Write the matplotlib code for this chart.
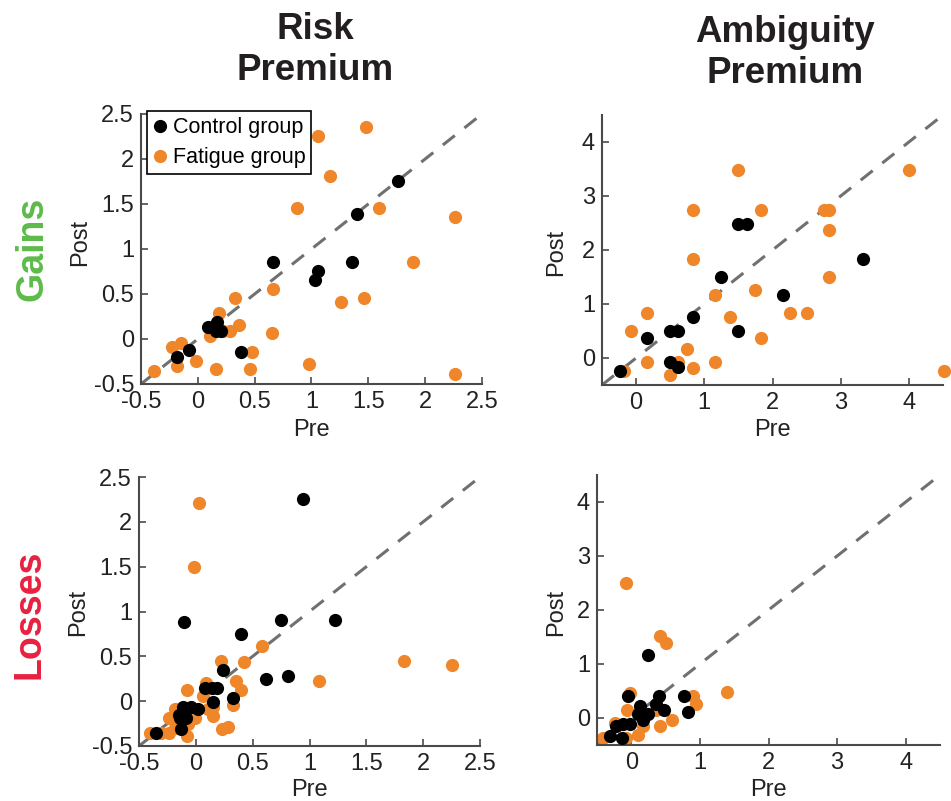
import matplotlib
matplotlib.use("Agg")
import matplotlib.pyplot as plt
from matplotlib.lines import Line2D

plt.rcParams['font.family'] = ['Liberation Sans', 'DejaVu Sans']

# ---------------- data ----------------
# Risk premium, gains
rg_ctrl_pre  = [1.76, 1.40, 0.66, 1.36, 1.06, 1.03, 0.09, 0.17, 0.16, 0.20, 0.13, -0.08, -0.18, 0.38]
rg_ctrl_post = [1.75, 1.39, 0.85, 0.86, 0.76, 0.65, 0.13, 0.19, 0.09, 0.09, 0.13, -0.12, -0.20, -0.14]
rg_fat_pre  = [1.48, 1.06, 1.16, 0.87, 1.59, 2.26, 1.89, 0.66, 0.33, 1.26, 1.46, 0.19, 0.36, 0.28, 0.11,
               0.65, 0.22, -0.15, -0.23, -0.02, -0.18, -0.39, 0.16, 0.46, 0.48, 0.98, 2.26]
rg_fat_post = [2.35, 2.26, 1.81, 1.45, 1.45, 1.35, 0.85, 0.56, 0.45, 0.41, 0.45, 0.29, 0.15, 0.09, 0.03,
               0.07, 0.09, -0.04, -0.09, -0.25, -0.30, -0.36, -0.33, -0.33, -0.14, -0.28, -0.39]

# Ambiguity premium, gains
ag_ctrl_pre  = [-0.24, 0.16, 0.49, 0.62, 0.49, 0.62, 0.83, 1.25, 1.49, 1.62, 1.49, 2.16, 3.33]
ag_ctrl_post = [-0.25, 0.37, 0.50, 0.50, -0.08, -0.17, 0.75, 1.50, 2.49, 2.49, 0.50, 1.17, 1.83]
ag_fat_pre  = [-0.18, -0.08, 0.16, 0.16, 0.49, 0.62, 0.75, 0.83, 0.83, 0.83, 1.16, 1.16, 1.38, 1.49,
               1.75, 1.83, 1.83, 2.25, 2.50, 2.75, 2.83, 2.83, 2.83, 4.00, 4.51]
ag_fat_post = [-0.25, 0.50, 0.84, -0.08, -0.31, -0.08, 0.17, -0.18, 2.74, 1.83, 1.17, -0.08, 0.75, 3.49,
               1.25, 2.74, 0.37, 0.83, 0.83, 2.74, 2.74, 2.37, 1.50, 3.49, -0.25]

# Risk premium, losses
rl_ctrl_pre  = [0.94, -0.10, 0.75, 1.22, 0.40, 0.24, 0.62, 0.81, 0.08, 0.14, 0.19, 0.15, 0.33, -0.11,
                -0.04, 0.02, -0.15, -0.09, -0.14, -0.13, -0.35]
rl_ctrl_post = [2.25, 0.88, 0.91, 0.91, 0.75, 0.35, 0.25, 0.28, 0.15, 0.15, 0.15, -0.01, 0.03, -0.06,
                -0.06, -0.09, -0.15, -0.19, -0.19, -0.31, -0.35]
rl_fat_pre  = [0.03, -0.02, 0.58, 0.22, 0.42, 1.83, 2.25, 1.08, 0.35, 0.40, 0.09, -0.08, 0.06, 0.15,
               0.33, 0.15, -0.01, -0.18, -0.24, -0.07, 0.23, 0.28, -0.08, -0.40, -0.31, -0.24, -0.18, 0.11]
rl_fat_post = [2.21, 1.50, 0.62, 0.45, 0.44, 0.45, 0.40, 0.23, 0.23, 0.13, 0.20, 0.13, 0.06, -0.07,
               -0.04, -0.17, -0.19, -0.09, -0.19, -0.26, -0.31, -0.29, -0.39, -0.35, -0.35, -0.35, -0.30, -0.09]

# Ambiguity premium, losses
al_ctrl_pre  = [0.25, -0.05, 0.41, 0.77, 0.13, 0.36, 0.47, 0.83, 0.10, 0.24, 0.17, -0.02, -0.12, -0.22,
                -0.31, -0.14]
al_ctrl_post = [1.17, 0.40, 0.40, 0.40, 0.23, 0.26, 0.15, 0.11, 0.07, 0.07, -0.03, -0.12, -0.12, -0.14,
                -0.34, -0.37]
al_fat_pre  = [-0.07, 0.42, 0.50, 1.39, -0.02, 0.90, 0.94, -0.06, 0.36, 0.60, 0.42, 0.10, -0.24, -0.41,
               -0.07, 0.17]
al_fat_post = [2.50, 1.51, 1.39, 0.48, 0.46, 0.40, 0.26, 0.15, 0.15, -0.03, -0.15, -0.31, -0.09, -0.37,
               -0.37, -0.15]

risk_ticks = [-0.5, 0, 0.5, 1, 1.5, 2, 2.5]
risk_ticklabels = ['-0.5', '0', '0.5', '1', '1.5', '2', '2.5']
amb_ticks = [0, 1, 2, 3, 4]
amb_ticklabels = ['0', '1', '2', '3', '4']
col_titles = ['Risk\nPremium', 'Ambiguity\nPremium']
row_titles = ['Gains', 'Losses']
legend_labels = ['Control group', 'Fatigue group']

# ---------------- style ----------------
ORANGE = '#F0862A'
BLACK = '#000000'
GREEN = '#5DBB4A'
RED = '#E8213F'
SPINE = '#4a4a4a'
W, H = 951, 801

fig = plt.figure(figsize=(W / 100, H / 100), dpi=100)


def rect(l, r, t, b):
    return [l / W, (H - b) / H, (r - l) / W, (b - t) / H]


panels = [
    (rect(141, 482, 114, 384), rg_ctrl_pre, rg_ctrl_post, rg_fat_pre, rg_fat_post, (-0.5, 2.5), risk_ticks, risk_ticklabels),
    (rect(602, 943, 115, 385), ag_ctrl_pre, ag_ctrl_post, ag_fat_pre, ag_fat_post, (-0.5, 4.5), amb_ticks, amb_ticklabels),
    (rect(139, 480, 477, 746), rl_ctrl_pre, rl_ctrl_post, rl_fat_pre, rl_fat_post, (-0.5, 2.5), risk_ticks, risk_ticklabels),
    (rect(597, 940, 475, 745), al_ctrl_pre, al_ctrl_post, al_fat_pre, al_fat_post, (-0.5, 4.5), amb_ticks, amb_ticklabels),
]

axes = []
for (r, cx, cy, fx, fy, lim, ticks, tlabels) in panels:
    ax = fig.add_axes(r)
    ax.plot(lim, lim, color='#707070', lw=2.2, dashes=(5, 4), zorder=1)
    ax.plot(fx, fy, 'o', color=ORANGE, ms=9.5, mec='none', clip_on=False, zorder=2)
    ax.plot(cx, cy, 'o', color=BLACK, ms=9.5, mec='none', clip_on=False, zorder=3)
    ax.set_xlim(lim)
    ax.set_ylim(lim)
    ax.set_xticks(ticks)
    ax.set_xticklabels(tlabels)
    ax.set_yticks(ticks)
    ax.set_yticklabels(tlabels)
    for s in ['top', 'right']:
        ax.spines[s].set_visible(False)
    for s in ['left', 'bottom']:
        ax.spines[s].set_color(SPINE)
        ax.spines[s].set_linewidth(1.5)
    ax.tick_params(direction='in', length=5, width=1.2, color=SPINE, labelsize=17, pad=5,
                   labelcolor='#222222')
    axes.append(ax)

# legend in first panel
handles = [Line2D([], [], ls='none', marker='o', color=BLACK, ms=9.5, mec='none'),
           Line2D([], [], ls='none', marker='o', color=ORANGE, ms=9.5, mec='none')]
leg = axes[0].legend(handles, legend_labels, loc='upper left', bbox_to_anchor=(0.018, 1.01),
                     fontsize=15.5, frameon=True, fancybox=False, framealpha=1, edgecolor='black',
                     handlelength=0.6, handletextpad=0.3, borderpad=0.28, labelspacing=0.42,
                     borderaxespad=0)
leg.get_frame().set_linewidth(1.2)


def ftext(x, y, s, **kw):
    fig.text(x / W, 1 - y / H, s, **kw)


# column titles
ftext(315, 50, col_titles[0], ha='center', va='center', fontsize=26.5, fontweight='bold',
      color='#231f20', linespacing=1.22)
ftext(785, 53, col_titles[1], ha='center', va='center', fontsize=26.5, fontweight='bold',
      color='#231f20', linespacing=1.22)
# row titles
ftext(32, 249, row_titles[0], ha='center', va='center', rotation=90, fontsize=27,
      fontweight='bold', color=GREEN)
ftext(30, 614, row_titles[1], ha='center', va='center', rotation=90, fontsize=27,
      fontweight='bold', color=RED)
# axis labels
for (px, py) in [(311, 430), (772, 430), (309, 790), (768, 790)]:
    ftext(px, py, 'Pre', ha='center', va='center', fontsize=17, color='#222222')
for (px, py) in [(80, 242), (556, 252), (78, 612), (556, 612)]:
    ftext(px, py, 'Post', ha='center', va='center', rotation=90, fontsize=17, color='#222222')

fig.savefig('out.png', dpi=100)
